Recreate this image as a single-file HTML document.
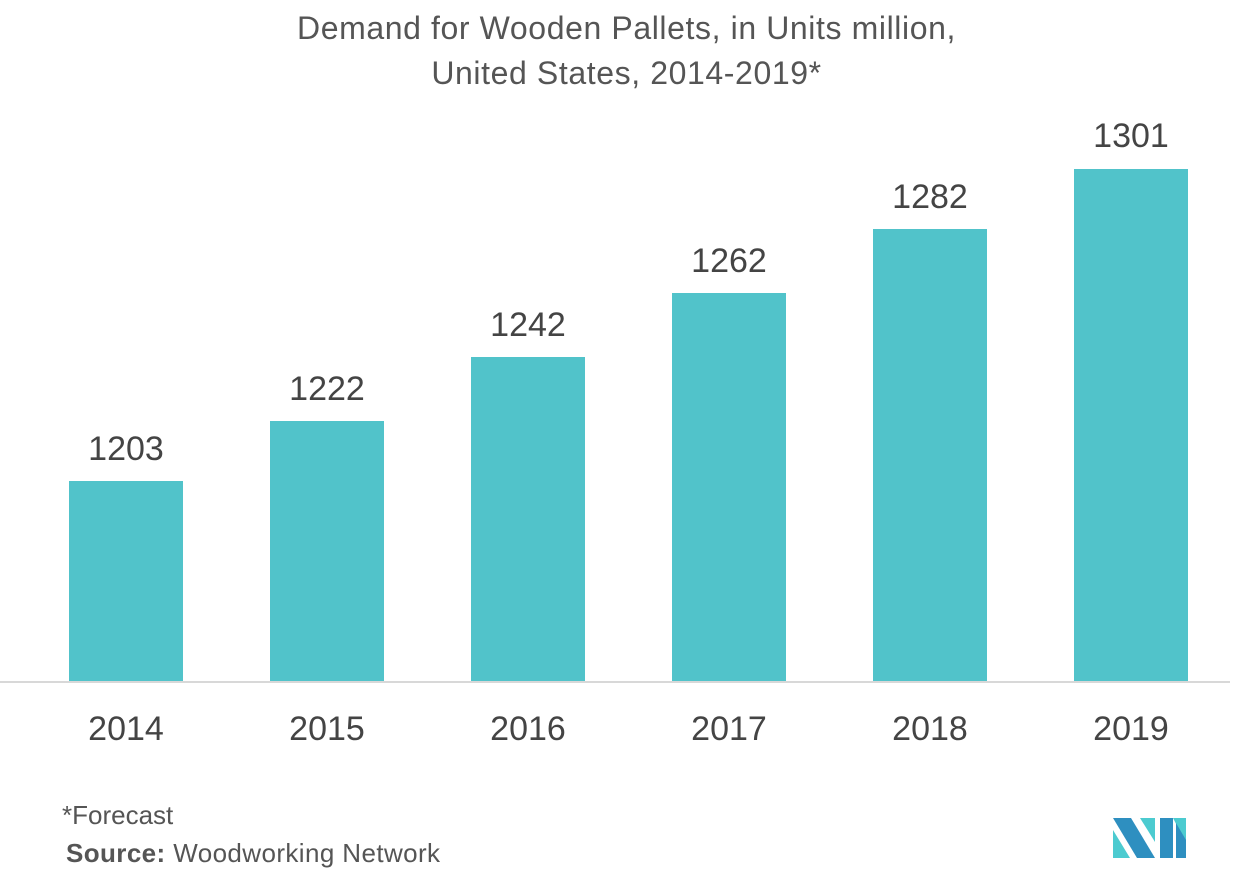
<!DOCTYPE html>
<html><head><style>
body{margin:0;width:1253px;height:889px;background:#fff;font-family:"Liberation Sans",sans-serif;color:#555;position:relative;overflow:hidden}
.t{position:absolute;left:0;width:1253px;text-align:center;font-size:32px;letter-spacing:0.6px;color:#555}
.bar{position:absolute;width:114px;background:#51c3ca}
.v,.y{position:absolute;width:160px;text-align:center;font-size:34px;color:#444}
</style></head><body>
<div class="t" style="top:10px">Demand for Wooden Pallets, in Units million,</div>
<div class="t" style="top:55px">United States, 2014-2019*</div>
<div style="position:absolute;left:0;top:681px;width:1230px;height:2px;background:#d8d8d8"></div>

<div class="bar" style="left:69px;top:481px;height:200px"></div>
<div class="bar" style="left:270px;top:421px;height:260px"></div>
<div class="bar" style="left:471px;top:357px;height:324px"></div>
<div class="bar" style="left:672px;top:293px;height:388px"></div>
<div class="bar" style="left:873px;top:229px;height:452px"></div>
<div class="bar" style="left:1074px;top:169px;height:512px"></div>

<div class="v" style="left:46px;top:430px">1203</div>
<div class="v" style="left:247px;top:370px">1222</div>
<div class="v" style="left:448px;top:306px">1242</div>
<div class="v" style="left:649px;top:242px">1262</div>
<div class="v" style="left:850px;top:178px">1282</div>
<div class="v" style="left:1051px;top:117px">1301</div>

<div class="y" style="left:46px;top:710px">2014</div>
<div class="y" style="left:247px;top:710px">2015</div>
<div class="y" style="left:448px;top:710px">2016</div>
<div class="y" style="left:649px;top:710px">2017</div>
<div class="y" style="left:850px;top:710px">2018</div>
<div class="y" style="left:1051px;top:710px">2019</div>

<div style="position:absolute;left:62px;top:800px;font-size:26px;color:#555">*Forecast</div>
<div style="position:absolute;left:66px;top:838px;font-size:26px;letter-spacing:0.4px;color:#555"><b>Source:</b> Woodworking Network</div>

<svg style="position:absolute;left:1113px;top:818px" width="73" height="40" viewBox="0 0 73 40">
<polygon points="0,0 18,0 42,40 24,40 0,0" fill="#2e8fc0"/>
<polygon points="0,12 17,40 0,40" fill="#4ccbd0"/>
<polygon points="27,0 42,0 42,24" fill="#4ccbd0"/>
<polygon points="47,0 60,0 60,40 47,40 47,17" fill="#2e8fc0"/>
<polygon points="60,0 73,0 73,25" fill="#4ccbd0"/>
<polygon points="63,5 73,22 73,40 63,40" fill="#2e8fc0"/>
</svg>
</body></html>
